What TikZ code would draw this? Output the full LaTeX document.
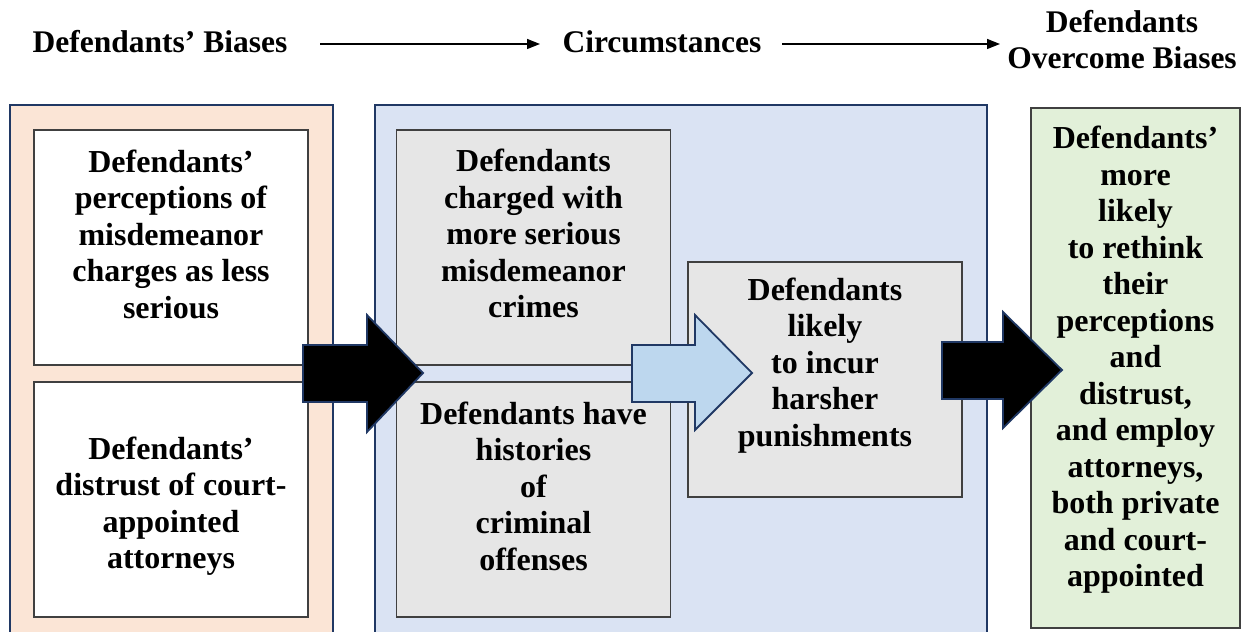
\documentclass[tikz,border=0pt]{standalone}
\usepackage{fontspec}
\setmainfont{Liberation Serif}
\usetikzlibrary{arrows.meta}
\definecolor{navy}{HTML}{203864}
\definecolor{peach}{HTML}{FBE5D6}
\definecolor{paleblue}{HTML}{DAE3F3}
\definecolor{boxgray}{HTML}{E6E6E6}
\definecolor{palegreen}{HTML}{E2F0D9}
\definecolor{skyblue}{HTML}{BDD7EE}
\definecolor{edgegray}{HTML}{404040}
\begin{document}
\begin{tikzpicture}[x=1pt,y=1pt,
  panelline/.style={draw=navy, line width=2pt},
  card/.style={draw=edgegray, line width=1.2pt, minimum width=274pt, minimum height=235pt, inner sep=0pt},
  cardtext/.style={align=center, font=\fontsize{32}{36.5}\selectfont\bfseries, inner sep=0pt},
  header/.style={align=center, font=\fontsize{31.5}{36}\selectfont\bfseries, inner sep=0pt},
  harrow/.style={line width=1.4pt, -{Triangle[length=13pt,width=10pt]}},
  blockarrow/.style={draw=navy, line width=1.8pt, line join=miter}
]
\useasboundingbox (0,0) rectangle (1248,632);

% header row
\node[header] (h1) at (160,590) {Defendants’ Biases};
\node[header] (h2) at (662,590) {Circumstances};
\node[header] (h3) at (1122,592) {Defendants\\Overcome Biases};
\coordinate (h1out) at (320,588);
\coordinate (h2in) at (540,588);
\coordinate (h2out) at (782,588);
\coordinate (h3in) at (1000,588);
\draw[harrow] (h1out) -- (h2in);
\draw[harrow] (h2out) -- (h3in);

% left panel: biases
\fill[peach] (10,-5) rectangle (333,527);
\draw[panelline] (10,-5) -- (10,527) -- (333,527) -- (333,-5);
\node[card, fill=white] (b1) at (171,384.5) {};
\node[card, fill=white] (b2) at (171,132.5) {};
\node[cardtext] (b1t) at (171,398) {Defendants’\\perceptions of\\misdemeanor\\charges as less\\serious};
\node[cardtext] (b2t) at (171,126) {Defendants’\\distrust of court-\\appointed\\attorneys};

% middle panel: circumstances
\fill[paleblue] (375,-5) rectangle (987,527);
\draw[panelline] (375,-5) -- (375,527) -- (987,527) -- (987,-5);
\node[card, fill=boxgray] (c1) at (533.5,384.5) {};
\node[card, fill=boxgray] (c2) at (533.5,132.5) {};
\node[card, fill=boxgray] (c3) at (825,252.5) {};
\node[cardtext] (c1t) at (533.5,398.5) {Defendants\\charged with\\more serious\\misdemeanor\\crimes};
\node[cardtext] (c2t) at (533.5,146) {Defendants have\\histories\\of\\criminal\\offenses};
\node[cardtext] (c3t) at (825,266.5) {Defendants\\likely\\to incur\\harsher\\punishments};

% right box: outcome
\node[draw=edgegray, line width=1.2pt, fill=palegreen, minimum width=209pt, minimum height=520pt, inner sep=0pt] (g) at (1135.5,264) {};
\node[cardtext] (gt) at (1135.5,272) {Defendants’\\more\\likely\\to rethink\\their\\perceptions\\and\\distrust,\\and employ\\attorneys,\\both private\\and court-\\appointed};

% block arrows between stages
\filldraw[blockarrow, fill=black] (303,287) -- (367,287) -- (367,317) -- (423,259) -- (367,200) -- (367,230) -- (303,230) -- cycle;
\filldraw[blockarrow, fill=skyblue] (632,287) -- (695,287) -- (695,317) -- (752,259) -- (695,202) -- (695,230) -- (632,230) -- cycle;
\filldraw[blockarrow, fill=black] (942,290) -- (1003,290) -- (1003,320) -- (1062,262) -- (1003,204) -- (1003,233) -- (942,233) -- cycle;
\end{tikzpicture}
\end{document}
